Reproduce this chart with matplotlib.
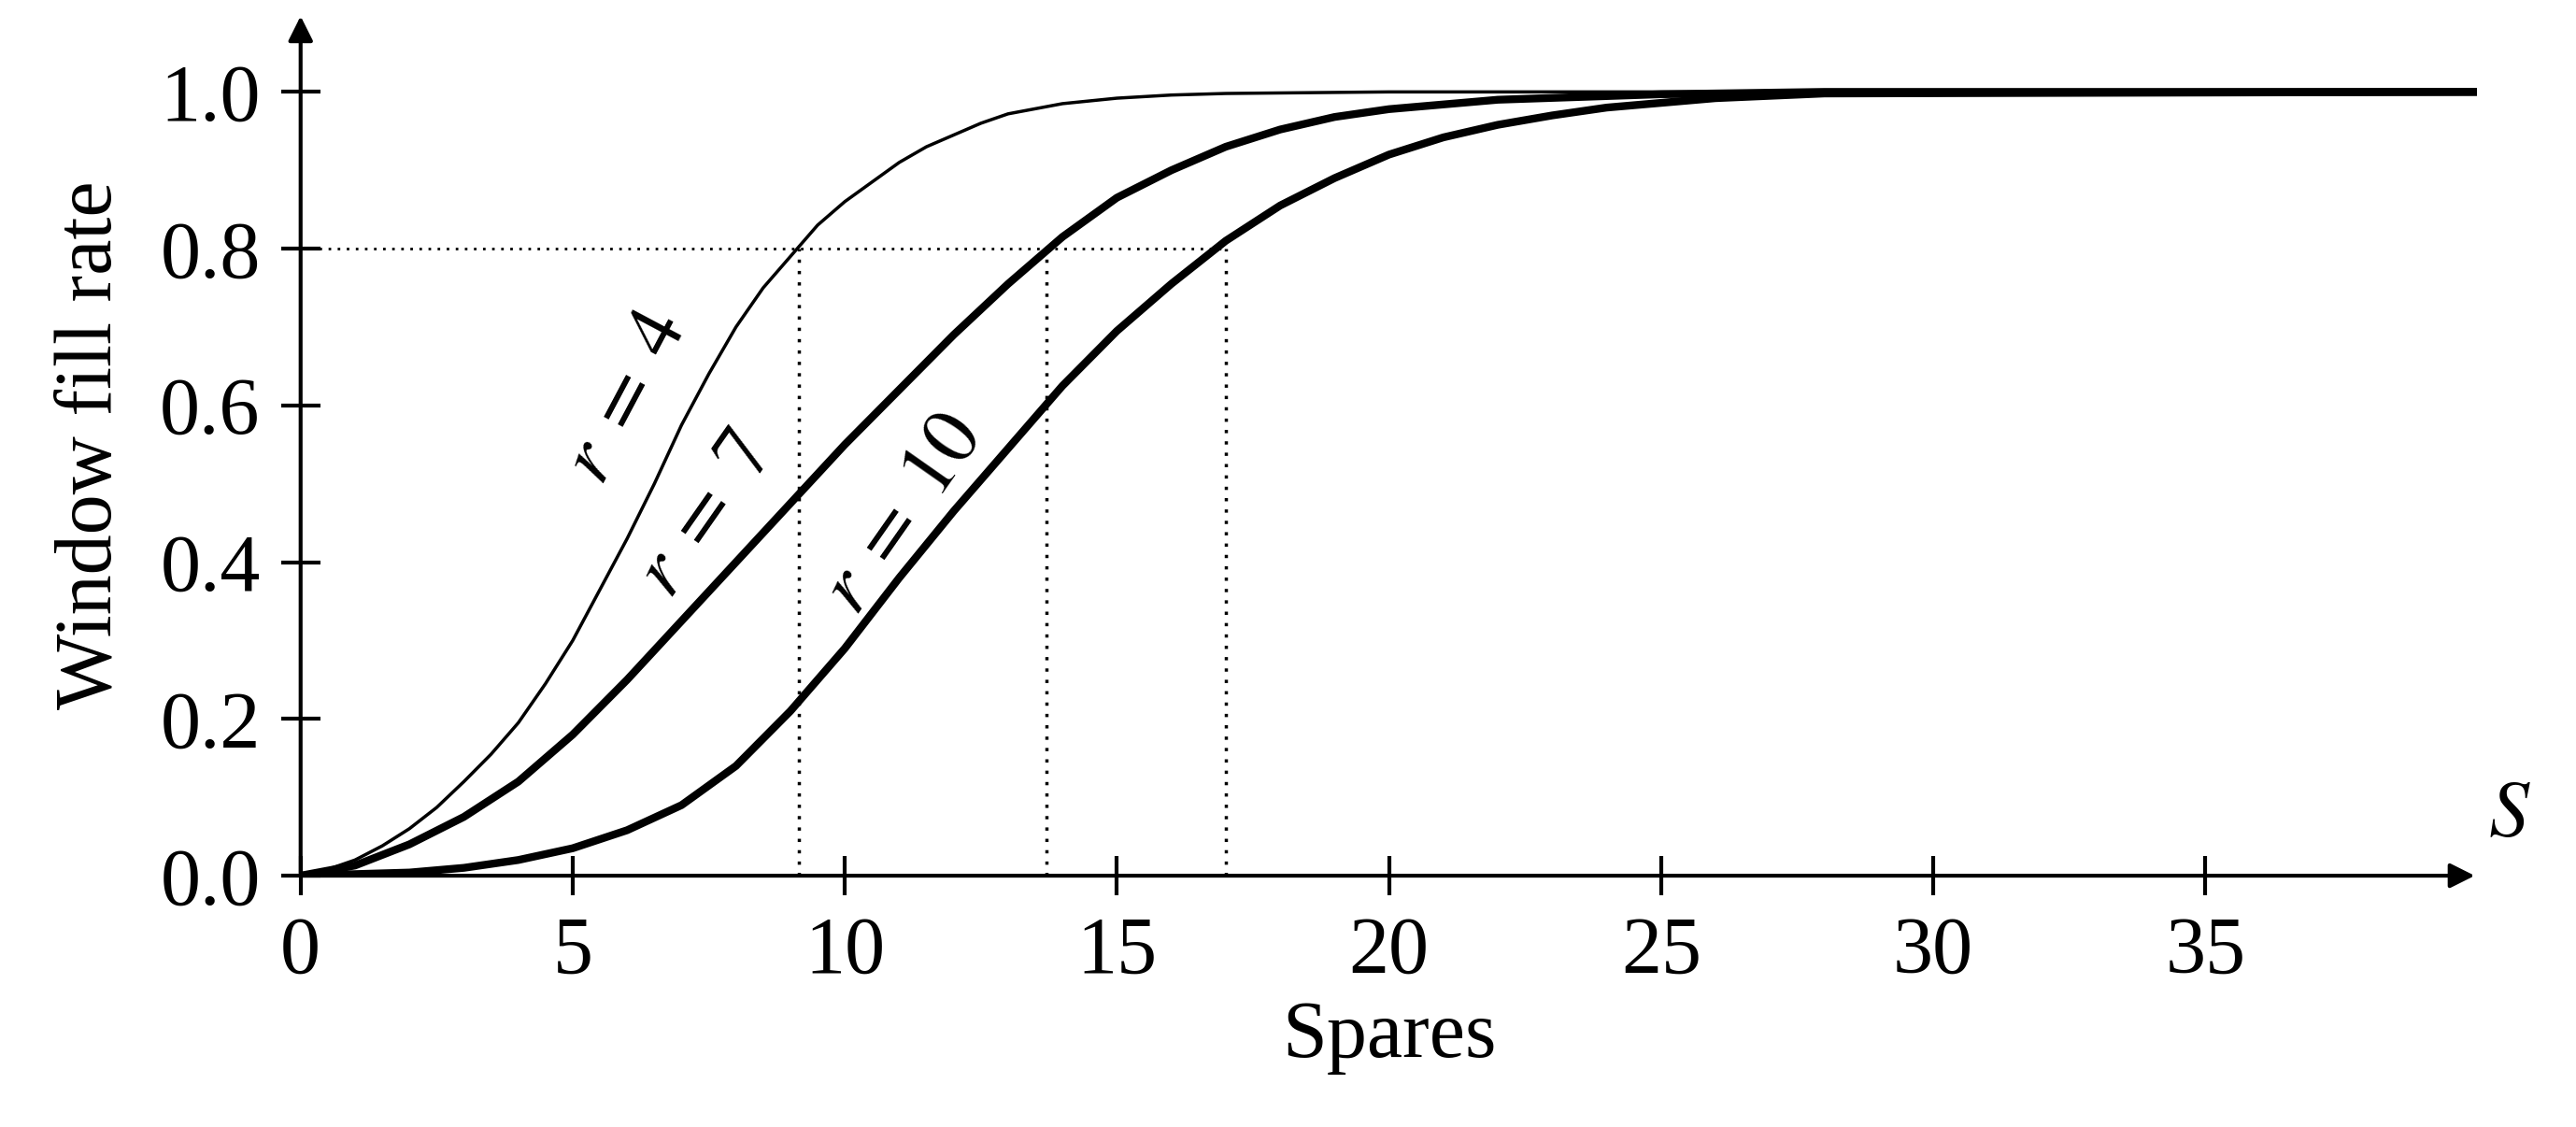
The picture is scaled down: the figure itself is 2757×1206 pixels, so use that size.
import matplotlib
matplotlib.use("Agg")
import matplotlib.pyplot as plt

plt.rcParams['font.family'] = ['Liberation Serif', 'DejaVu Serif']
plt.rcParams['mathtext.fontset'] = 'stix'

# values
s4 = [0, 0.5, 1, 1.5, 2, 2.5, 3, 3.5, 4, 4.5, 5, 5.5, 6, 6.5, 7, 7.5, 8, 8.5, 9, 9.5, 10, 10.5,
      11, 11.5, 12, 12.5, 13, 14, 15, 16, 17, 20, 40]
f4 = [0, 0.008, 0.02, 0.038, 0.06, 0.087, 0.12, 0.155, 0.195, 0.245, 0.30, 0.365, 0.43, 0.50,
      0.575, 0.64, 0.70, 0.75, 0.79, 0.83, 0.86, 0.885, 0.91, 0.93, 0.945, 0.96, 0.972, 0.985,
      0.992, 0.996, 0.998, 1.0, 1.0]
s7 = [0, 1, 2, 3, 4, 5, 6, 7, 8, 9, 10, 11, 12, 13, 14, 15, 16, 17, 18, 19, 20, 22, 25, 28, 40]
f7 = [0, 0.013, 0.04, 0.075, 0.12, 0.18, 0.25, 0.325, 0.40, 0.475, 0.55, 0.62, 0.69, 0.755,
      0.815, 0.865, 0.90, 0.93, 0.952, 0.968, 0.978, 0.99, 0.997, 1.0, 1.0]
s10 = [0, 2, 3, 4, 5, 6, 7, 8, 9, 10, 11, 12, 13, 14, 15, 16, 17, 18, 19, 20, 21, 22, 23, 24,
       26, 28, 40]
f10 = [0, 0.004, 0.01, 0.02, 0.035, 0.058, 0.09, 0.14, 0.21, 0.29, 0.38, 0.465, 0.545, 0.625,
       0.695, 0.755, 0.81, 0.855, 0.89, 0.92, 0.942, 0.958, 0.97, 0.98, 0.992, 0.998, 1.0]
s_at_80 = [9.15, 13.7, 17.0]
xticks = [0, 5, 10, 15, 20, 25, 30, 35]
yticks = [0.0, 0.2, 0.4, 0.6, 0.8, 1.0]

fig = plt.figure(figsize=(27.57, 12.06), dpi=100)
ax = fig.add_axes([0.1167, 0.223, 0.845, 0.765])
ax.set_xlim(0, 40)
ax.set_ylim(0, 1.1)
for sp in ax.spines.values():
    sp.set_visible(False)

ax.plot(s4, f4, color='black', lw=2.5)
ax.plot(s7, f7, color='black', lw=6.0)
ax.plot(s10, f10, color='black', lw=6.0)

ax.plot([0, max(s_at_80)], [0.8, 0.8], color='black', lw=2, ls=(0, (1, 2.5)))
for s in s_at_80:
    ax.plot([s, s], [0, 0.8], color='black', lw=2.5, ls=(0, (1, 2.5)))

# axes with arrows
ax.annotate('', xy=(40, 0), xytext=(0, 0), annotation_clip=False,
            arrowprops=dict(arrowstyle='-|>', color='black', lw=3, mutation_scale=40))
ax.annotate('', xy=(0, 1.1), xytext=(0, 0), annotation_clip=False,
            arrowprops=dict(arrowstyle='-|>', color='black', lw=3, mutation_scale=40))

ax.set_xticks(xticks)
ax.set_yticks(yticks)
ax.set_xticklabels([str(t) for t in xticks])
ax.set_yticklabels([f'{t:.1f}' for t in yticks])
ax.tick_params(direction='inout', length=30, width=3, labelsize=62, pad=16)

ax.set_xlabel('Spares', fontsize=62, labelpad=8)
ax.set_ylabel('Window fill rate', fontsize=62, labelpad=24)
ax.text(40.6, 0.075, '$S$', fontsize=62, ha='center', va='center')

ax.text(6.0, 0.61, '$r\\;=\\;4$', fontsize=62, rotation=62, ha='center', va='center')
ax.text(7.45, 0.46, '$r\\;=\\;7$', fontsize=62, rotation=55, ha='center', va='center')
ax.text(11.1, 0.46, '$r\\;=\\;10$', fontsize=62, rotation=55, ha='center', va='center')

fig.savefig('out.png', dpi=100)
